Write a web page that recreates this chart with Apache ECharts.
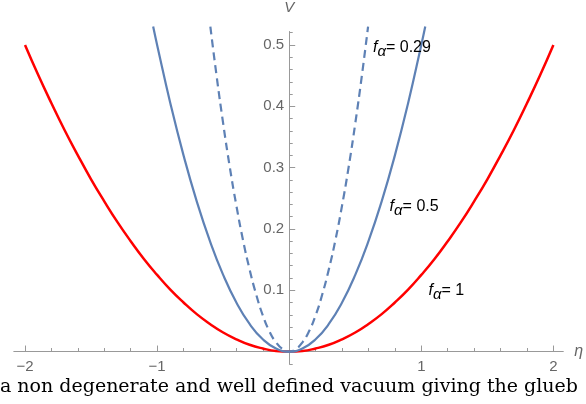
<!DOCTYPE html>
<html><head><meta charset="utf-8">
<script src="https://cdn.jsdelivr.net/npm/echarts@6/dist/echarts.min.js"></script>
<style>html,body{margin:0;padding:0;background:#fff;}#c{width:586px;height:404px;}</style>
</head><body><div id="c"></div><script>
// f_alpha = 1 (red)
const etaRed = [-2.0,-1.9,-1.8,-1.7,-1.6,-1.5,-1.4,-1.3,-1.2,-1.1,-1.0,-0.9,-0.8,-0.7,-0.6,-0.5,-0.4,-0.3,-0.2,-0.1,0,
                0.1,0.2,0.3,0.4,0.5,0.6,0.7,0.8,0.9,1.0,1.1,1.2,1.3,1.4,1.5,1.6,1.7,1.8,1.9,2.0];
const vRed   = [0.5,0.451,0.405,0.361,0.32,0.281,0.245,0.211,0.18,0.151,0.125,0.101,0.08,0.061,0.045,0.031,0.02,0.011,0.005,0.001,0,
                0.001,0.005,0.011,0.02,0.031,0.045,0.061,0.08,0.101,0.125,0.151,0.18,0.211,0.245,0.281,0.32,0.361,0.405,0.451,0.5];
// f_alpha = 0.5 (solid blue)
const etaHalf = [-1.03,-1.0,-0.9,-0.8,-0.7,-0.6,-0.5,-0.4,-0.3,-0.2,-0.1,0,0.1,0.2,0.3,0.4,0.5,0.6,0.7,0.8,0.9,1.0,1.03];
const vHalf   = [0.53,0.5,0.405,0.32,0.245,0.18,0.125,0.08,0.045,0.02,0.005,0,0.005,0.02,0.045,0.08,0.125,0.18,0.245,0.32,0.405,0.5,0.53];
// f_alpha = 0.29 (dashed blue)
const eta029 = [-0.597,-0.55,-0.5,-0.45,-0.4,-0.35,-0.3,-0.25,-0.2,-0.15,-0.1,-0.05,0,0.05,0.1,0.15,0.2,0.25,0.3,0.35,0.4,0.45,0.5,0.55,0.597];
const v029   = [0.53,0.45,0.372,0.301,0.238,0.182,0.134,0.093,0.059,0.033,0.015,0.004,0,0.004,0.015,0.033,0.059,0.093,0.134,0.182,0.238,0.301,0.372,0.45,0.53];

const xTickLabels = [-2,-1,1,2];
const xMinorTicks = [-1.8,-1.6,-1.4,-1.2,-0.8,-0.6,-0.4,-0.2,0.2,0.4,0.6,0.8,1.2,1.4,1.6,1.8];
const yTickLabels = [0.1,0.2,0.3,0.4,0.5];
const yMinorTicks = [-0.02,0.02,0.04,0.06,0.08,0.12,0.14,0.16,0.18,0.22,0.24,0.26,0.28,0.32,0.34,0.36,0.38,0.42,0.44,0.46,0.48,0.52];

const curveLabels = [
  {name:'0.29', eta:0.634, v:0.496},
  {name:'0.5',  eta:0.760, v:0.2365},
  {name:'1',    eta:1.055, v:0.0995}
];
const caption = 'a non degenerate and well defined vacuum giving the glueb';

const zip = (a,b) => a.map((x,i)=>[x,b[i]]);
const AX = '#999', TXT = '#666';
const XMIN = -2.085, XMAX = 2.075, YMIN = -0.02, YMAX = 0.522;
const GRID = {left:13.8, right:22.7, top:31.5, bottom:40.2};

function labelPoint(l){
  return {
    coord:[l.eta,l.v], symbol:'circle', symbolSize:0,
    label:{show:true, position:'right', distance:0,
      formatter:'{f|f}{a|α}{t|= '+l.name+'}',
      rich:{
        f:{fontFamily:'Liberation Sans', fontStyle:'italic', fontSize:16, color:'#000'},
        a:{fontFamily:'Liberation Sans', fontStyle:'italic', fontSize:15, color:'#000', padding:[8,0,0,0]},
        t:{fontFamily:'Liberation Sans', fontSize:16, color:'#000'}
      }}
  };
}

const chart = echarts.init(document.getElementById('c'), null, {renderer:'canvas'});
function xAxes(off){
  return [
    {type:'value', min:XMIN, max:XMAX, position:'bottom', offset:off,
     axisLine:{onZero:false, lineStyle:{color:AX, width:1}},
     axisTick:{inside:true, length:6, customValues:xTickLabels, lineStyle:{color:AX}},
     axisLabel:{customValues:xTickLabels, color:TXT, fontFamily:'Liberation Sans', fontSize:15, margin:8,
                formatter:v=>String(v).replace('-','\u2212')},
     splitLine:{show:false},
     name:'η', nameLocation:'end', nameGap:11,
     nameTextStyle:{fontStyle:'italic', color:TXT, fontFamily:'Liberation Sans', fontSize:16, verticalAlign:'middle'}},
    {type:'value', min:XMIN, max:XMAX, position:'bottom', offset:off,
     axisLine:{show:false, onZero:false},
     axisTick:{inside:true, length:3.5, customValues:xMinorTicks, lineStyle:{color:AX}},
     axisLabel:{show:false}, splitLine:{show:false}}
  ];
}
function yAxes(off){
  return [
    {type:'value', min:YMIN, max:YMAX, position:'left', offset:off,
     axisLine:{onZero:false, lineStyle:{color:AX, width:1}},
     axisTick:{inside:true, length:6, customValues:yTickLabels, lineStyle:{color:AX}},
     axisLabel:{customValues:yTickLabels, color:TXT, fontFamily:'Liberation Sans', fontSize:15, margin:5},
     splitLine:{show:false},
     name:'V', nameLocation:'end', nameGap:16,
     nameTextStyle:{fontStyle:'italic', color:TXT, fontFamily:'Liberation Sans', fontSize:15, align:'center'}},
    {type:'value', min:YMIN, max:YMAX, position:'left', offset:off,
     axisLine:{show:false, onZero:false},
     axisTick:{inside:true, length:3.5, customValues:yMinorTicks, lineStyle:{color:AX}},
     axisLabel:{show:false}, splitLine:{show:false}}
  ];
}
chart.setOption({
  animation:false,
  backgroundColor:'#fff',
  grid:Object.assign({containLabel:false, outerBoundsMode:'none'}, GRID),
  xAxis:xAxes(0),
  yAxis:yAxes(0),
  series:[
    {type:'line', name:'f=1', data:zip(etaRed,vRed), smooth:true, showSymbol:false, clip:false,
     lineStyle:{color:'#ff0000', width:2.5}, markPoint:{data:[labelPoint(curveLabels[2])]}},
    {type:'line', name:'f=0.5', data:zip(etaHalf,vHalf), smooth:true, showSymbol:false, clip:false,
     lineStyle:{color:'#5e81b5', width:2.2}, markPoint:{data:[labelPoint(curveLabels[1])]}},
    {type:'line', name:'f=0.29', data:zip(eta029,v029), smooth:true, showSymbol:false, clip:false,
     lineStyle:{color:'#5e81b5', width:2.2, type:[8,5]}, markPoint:{data:[labelPoint(curveLabels[0])]}}
  ],
  graphic:[
    {type:'text', left:0, top:378,
     style:{text:caption, font:'19px "DejaVu Serif"', fill:'#000'}}
  ]
});
// move the axes so that they cross at the origin (library scale used for the shift)
const x0 = chart.convertToPixel({xAxisIndex:0}, 0);
const xL = chart.convertToPixel({xAxisIndex:0}, XMIN);
const y0 = chart.convertToPixel({yAxisIndex:0}, 0);
const yB = chart.convertToPixel({yAxisIndex:0}, YMIN);
chart.setOption({xAxis:xAxes(-(yB - y0)), yAxis:yAxes(-(x0 - xL))});
</script></body></html>
